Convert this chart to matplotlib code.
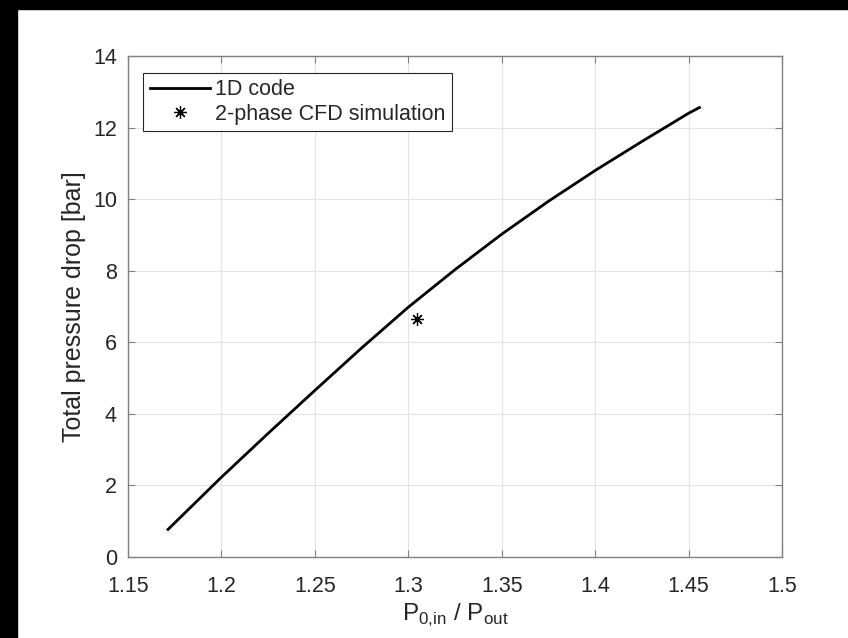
import matplotlib
matplotlib.use("Agg")
import matplotlib.pyplot as plt
from matplotlib.patches import Rectangle

plt.rcParams['font.family'] = ['Liberation Sans', 'DejaVu Sans']

# 1D code curve
pr_1d = [1.1714, 1.20, 1.225, 1.25, 1.275, 1.30, 1.325, 1.35, 1.375, 1.40,
         1.425, 1.45, 1.4558]
dp_1d = [0.77, 2.23, 3.455, 4.655, 5.84, 6.98, 8.03, 9.02, 9.94, 10.80,
         11.61, 12.40, 12.56]

# 2-phase CFD point
pr_cfd = [1.3045]
dp_cfd = [6.64]

xticks = [1.15, 1.2, 1.25, 1.3, 1.35, 1.4, 1.45, 1.5]
xticklabels = ["1.15", "1.2", "1.25", "1.3", "1.35", "1.4", "1.45", "1.5"]
yticks = [0, 2, 4, 6, 8, 10, 12, 14]

W, H = 848, 638
fig = plt.figure(figsize=(W / 100, H / 100), dpi=100)
ax = fig.add_axes([128 / W, 1 - 557 / H, (782 - 128) / W, (557 - 56) / H])

# black strips at the picture's left and top edges
fig.patches.append(Rectangle((0, 0), 17 / W, 1, transform=fig.transFigure,
                             color="black", zorder=0))
fig.patches.append(Rectangle((0, 1 - 9 / H), 1, 9 / H, transform=fig.transFigure,
                             color="black", zorder=0))

ax.plot(pr_1d, dp_1d, color="black", lw=2.0, label="1D code")
ax.plot(pr_cfd, dp_cfd, ls="none", marker=(8, 2, 0), ms=9, mew=0.9,
        color="black", label="2-phase CFD simulation")

ax.set_xlim(1.15, 1.5)
ax.set_ylim(0, 14)
ax.set_xticks(xticks)
ax.set_xticklabels(xticklabels)
ax.set_yticks(yticks)

grey = "#262626"
ax.grid(True, color="#e3e3e3", lw=0.8)
ax.set_axisbelow(True)
for s in ax.spines.values():
    s.set_color("#808080")
    s.set_linewidth(1.0)
ax.tick_params(direction="in", length=5, width=0.8, color="#808080",
               labelsize=15.5, labelcolor=grey, top=True, right=True)
ax.tick_params(axis="x", pad=14)
ax.tick_params(axis="y", pad=8)

ax.set_ylabel("Total pressure drop [bar]", fontsize=18, color=grey, labelpad=5)
ax.set_xlabel(r"P$_{\mathregular{0{,}in}}$ / P$_{\mathregular{out}}$",
              fontsize=17.5, color=grey, labelpad=3)

leg = ax.legend(loc="upper left", bbox_to_anchor=(0.023, 0.966), fontsize=15.5,
                frameon=True, fancybox=False, edgecolor=grey, framealpha=1,
                handlelength=2.8, handletextpad=0.25, borderpad=0.3,
                labelspacing=0.15, borderaxespad=0)
leg.get_frame().set_linewidth(0.8)
for t in leg.get_texts():
    t.set_color(grey)

fig.savefig("out.png", dpi=100)
